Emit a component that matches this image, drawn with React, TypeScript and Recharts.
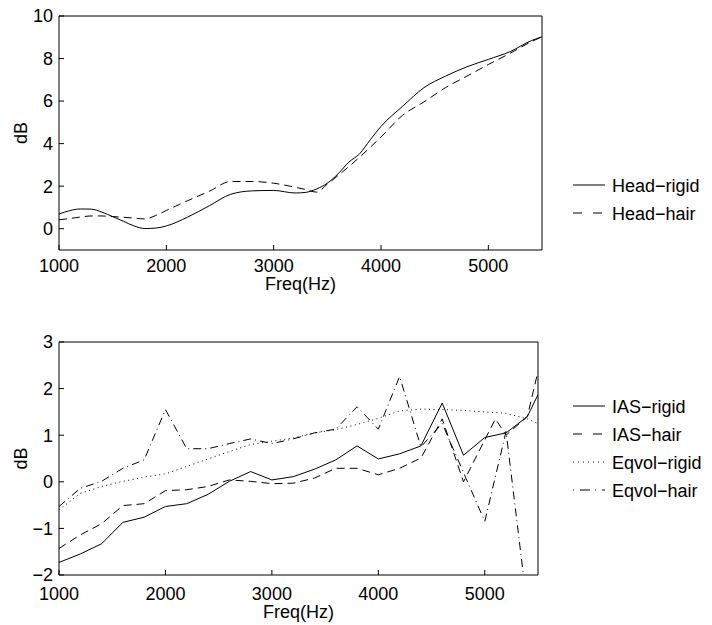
import { LineChart, Line, XAxis, YAxis, Legend } from 'recharts';

// Upper panel: head response, sampled finer where the curves bend
const headFreq = [
  1000, 1100, 1200, 1300, 1400, 1500, 1600, 1700, 1800, 1900, 2000, 2200, 2400, 2600, 2800, 3000, 3200,
  3300, 3400, 3500, 3600, 3700, 3800, 3900, 4000, 4200, 4400, 4600, 4800, 5000, 5200, 5400, 5500,
];
const headRigid = [
  0.69, 0.85, 0.93, 0.92, 0.78, 0.57, 0.35, 0.13, 0.01, 0.03, 0.13, 0.55, 1.08, 1.62, 1.78, 1.8, 1.68,
  1.71, 1.87, 2.14, 2.58, 3.13, 3.52, 4.18, 4.81, 5.75, 6.63, 7.17, 7.61, 7.96, 8.32, 8.84, 9.02,
];
const headHair = [
  0.42, 0.48, 0.55, 0.6, 0.6, 0.57, 0.54, 0.5, 0.46, 0.62, 0.86, 1.32, 1.76, 2.22, 2.22, 2.14, 1.95,
  1.84, 1.72, 2.1, 2.5, 2.92, 3.36, 3.83, 4.31, 5.33, 5.96, 6.63, 7.17, 7.72, 8.24, 8.79, 9.02,
];

// Lower panel: model comparison (null = no sample at that frequency)
const modelFreq = [
  1000, 1200, 1400, 1600, 1800, 2000, 2200, 2400, 2600, 2800, 3000, 3200, 3400, 3600, 3800, 4000, 4200,
  4400, 4600, 4800, 5000, 5100, 5200, 5400, 5500,
];
const iasRigid = [
  -1.73, -1.55, -1.33, -0.87, -0.76, -0.53, -0.47, -0.27, 0.01, 0.22, 0.04, 0.11, 0.27, 0.47, 0.77, 0.49,
  0.6, 0.77, 1.69, 0.57, 0.95, null, 1.05, 1.4, 1.87,
];
const iasHair = [
  -1.43, -1.14, -0.9, -0.51, -0.47, -0.19, -0.17, -0.1, 0.04, 0.01, -0.04, -0.03, 0.08, 0.29, 0.29, 0.15,
  0.29, 0.51, 1.35, 0.0, null, 1.35, 1.0, 1.4, 2.37,
];
const eqvolRigid = [
  -0.6, -0.25, -0.1, 0.01, 0.1, 0.17, 0.33, 0.49, 0.65, 0.8, 0.87, 0.94, 1.05, 1.12, 1.23, 1.36, 1.52,
  1.56, 1.55, 1.53, 1.5, null, 1.47, 1.35, 1.25,
];
const eqvolHair = [
  -0.53, -0.14, 0.01, 0.29, 0.47, 1.55, 0.71, 0.71, 0.82, 0.92, 0.82, 0.92, 1.05, 1.13, 1.61, 1.13, 2.26,
  0.75, 1.25, 0.2, -0.85, null, 1.08, -2.7, null,
];

const freqTicks = [1000, 2000, 3000, 4000, 5000];
const headTicks = [0, 2, 4, 6, 8, 10];
const modelTicks = [-2, -1, 0, 1, 2, 3];

const headData = headFreq.map((f, i) => ({ f, headRigid: headRigid[i], headHair: headHair[i] }));
const modelData = modelFreq.map((f, i) => ({
  f,
  iasRigid: iasRigid[i],
  iasHair: iasHair[i],
  eqvolRigid: eqvolRigid[i],
  eqvolHair: eqvolHair[i],
}));

type LineStyle = 'solid' | 'dashed' | 'dotted' | 'dashdot';
type Series = { key: string; name: string; style: LineStyle };

const headSeries: Series[] = [
  { key: 'headRigid', name: 'Head−rigid', style: 'solid' },
  { key: 'headHair', name: 'Head−hair', style: 'dashed' },
];
const modelSeries: Series[] = [
  { key: 'iasRigid', name: 'IAS−rigid', style: 'solid' },
  { key: 'iasHair', name: 'IAS−hair', style: 'dashed' },
  { key: 'eqvolRigid', name: 'Eqvol−rigid', style: 'dotted' },
  { key: 'eqvolHair', name: 'Eqvol−hair', style: 'dashdot' },
];

const FONT = '"Liberation Sans", Arial, Helvetica, sans-serif';
const DASH: Record<LineStyle, string | undefined> = {
  solid: undefined,
  dashed: '8 5',
  dotted: '1 3.5',
  dashdot: '8 4 1 4',
};
const KEY_DASH: Record<LineStyle, string | undefined> = {
  solid: undefined,
  dashed: '9 11',
  dotted: '1 4',
  dashdot: '1 6 10 5',
};

const fmt = (v: number) => (v < 0 ? `−${Math.abs(v)}` : `${v}`);

const axisStroke = { stroke: '#000' };
const tickFont = { fill: '#000', fontSize: 18 };

function LineKey({ series }: { series: Series[] }) {
  return (
    <svg width={147} height={series.length * 28} style={{ display: 'block' }}>
      {series.map((s, i) => {
        const y = 14 + i * 28;
        return (
          <g key={s.key}>
            <line x1={8} x2={40} y1={y} y2={y} stroke="#000" strokeDasharray={KEY_DASH[s.style]} />
            <text x={47} y={y + 6.5} fontSize={18} fill="#000">
              {s.name}
            </text>
          </g>
        );
      })}
    </svg>
  );
}

function DbTitle({ viewBox }: any) {
  const cy = viewBox ? viewBox.y + viewBox.height / 2 : 0;
  return (
    <text x={27} y={cy} transform={`rotate(-90 27 ${cy})`} textAnchor="middle" fontSize={18} fill="#000">
      dB
    </text>
  );
}

function Panel({
  data,
  series,
  yDomain,
  yTicks,
  height,
  top,
  right,
  tickGap,
  titleOffset,
  keyTop,
  curve,
}: {
  data: any[];
  series: Series[];
  yDomain: [number, number];
  yTicks: number[];
  height: number;
  top: number;
  right: number;
  tickGap: number;
  titleOffset: number;
  keyTop: number;
  curve: 'monotone' | 'linear';
}) {
  // the top and right axes only close the box and carry inward ticks
  return (
    <LineChart width={712} height={height} data={data} margin={{ top: top - 1, right: right - 1, bottom: 5, left: 0 }}>
      <XAxis
        dataKey="f"
        type="number"
        domain={[1000, 5500]}
        ticks={freqTicks}
        interval={0}
        allowDataOverflow
        height={45}
        tickSize={-5}
        tickMargin={tickGap}
        tick={tickFont}
        axisLine={axisStroke}
        tickLine={axisStroke}
        label={{ value: 'Freq(Hz)', position: 'insideBottom', offset: titleOffset, fill: '#000', fontSize: 18 }}
      />
      <XAxis
        xAxisId="top"
        orientation="top"
        dataKey="f"
        type="number"
        domain={[1000, 5500]}
        ticks={freqTicks}
        interval={0}
        allowDataOverflow
        height={1}
        tick={false}
        tickSize={-5}
        axisLine={axisStroke}
        tickLine={axisStroke}
      />
      <YAxis
        type="number"
        domain={yDomain}
        ticks={yTicks}
        interval={0}
        allowDataOverflow
        width={59}
        tickSize={-5}
        tickMargin={11}
        tickFormatter={fmt}
        tick={tickFont}
        axisLine={axisStroke}
        tickLine={axisStroke}
        label={<DbTitle />}
      />
      <YAxis
        yAxisId="right"
        orientation="right"
        type="number"
        domain={yDomain}
        ticks={yTicks}
        interval={0}
        allowDataOverflow
        width={1}
        tick={false}
        tickSize={-5}
        axisLine={axisStroke}
        tickLine={axisStroke}
      />
      <Legend
        layout="vertical"
        align="center"
        verticalAlign="middle"
        wrapperStyle={{ left: 565, top: keyTop, width: 147 }}
        content={() => <LineKey series={series} />}
      />
      {series.map((s) => (
        <Line
          key={s.key}
          dataKey={s.key}
          name={s.name}
          type={curve}
          stroke="#000"
          strokeWidth={1}
          strokeDasharray={DASH[s.style]}
          dot={false}
          activeDot={false}
          connectNulls
          isAnimationActive={false}
        />
      ))}
    </LineChart>
  );
}

export default function App() {
  return (
    <div
      style={{
        position: 'absolute',
        left: 0,
        top: 0,
        width: 712,
        height: 625,
        background: '#fff',
        fontFamily: FONT,
      }}
    >
      <div style={{ position: 'absolute', left: 0, top: 0 }}>
        <Panel
          data={headData}
          series={headSeries}
          yDomain={[-1, 10]}
          yTicks={headTicks}
          height={300}
          top={16}
          right={170}
          tickGap={14}
          titleOffset={5}
          keyTop={171}
          curve="monotone"
        />
      </div>
      <div style={{ position: 'absolute', left: 0, top: 300 }}>
        <Panel
          data={modelData}
          series={modelSeries}
          yDomain={[-2, 3]}
          yTicks={modelTicks}
          height={325}
          top={42}
          right={174}
          tickGap={17}
          titleOffset={2}
          keyTop={92}
          curve="linear"
        />
      </div>
    </div>
  );
}
